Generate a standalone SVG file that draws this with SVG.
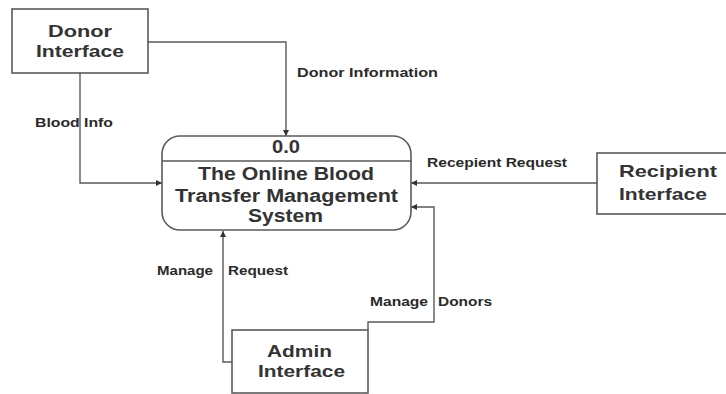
<svg xmlns="http://www.w3.org/2000/svg" width="726" height="394" viewBox="0 0 726 394">
  <style>
    .box { fill: #ffffff; stroke: #5a5a5a; stroke-width: 1.6; }
    .flow { fill: none; stroke: #5a5a5a; stroke-width: 1.4; }
    .name { font-family: "Liberation Sans", Arial, sans-serif; font-weight: bold; font-size: 17px; fill: #333333; }
    .proc { font-family: "Liberation Sans", Arial, sans-serif; font-weight: bold; font-size: 18px; fill: #333333; }
    .lbl { font-family: "Liberation Sans", Arial, sans-serif; font-weight: bold; font-size: 12px; fill: #2a2a2a; }
  </style>
  <defs>
    <marker id="arrow" viewBox="0 0 10 10" refX="10" refY="5" markerWidth="6" markerHeight="6" orient="auto" markerUnits="userSpaceOnUse">
      <path d="M0,0 L10,5 L0,10 z" fill="#333333"/>
    </marker>
  </defs>
  <rect width="726" height="394" fill="#ffffff"/>

  <!-- data flows -->
  <g id="connectors">
    <path class="flow" d="M148,42 H286 V136" marker-end="url(#arrow)"/>
    <path class="flow" d="M80,73 V183 H162" marker-end="url(#arrow)"/>
    <path class="flow" d="M597,183 H411" marker-end="url(#arrow)"/>
    <path class="flow" d="M368,330 V322 H434 V207 H411" marker-end="url(#arrow)"/>
    <path class="flow" d="M232,362 H223 V231" marker-end="url(#arrow)"/>
    <text class="lbl" x="297" y="77" textLength="141" lengthAdjust="spacingAndGlyphs">Donor Information</text>
    <text class="lbl" x="35" y="127" textLength="78" lengthAdjust="spacingAndGlyphs">Blood Info</text>
    <text class="lbl" x="427" y="167" textLength="140" lengthAdjust="spacingAndGlyphs">Recepient Request</text>
    <text class="lbl" x="157" y="275" textLength="56" lengthAdjust="spacingAndGlyphs">Manage</text>
    <text class="lbl" x="228" y="275" textLength="60" lengthAdjust="spacingAndGlyphs">Request</text>
    <text class="lbl" x="370" y="306" textLength="58" lengthAdjust="spacingAndGlyphs">Manage</text>
    <text class="lbl" x="438" y="306" textLength="54" lengthAdjust="spacingAndGlyphs">Donors</text>
  </g>

  <!-- process 0.0 -->
  <g id="process">
    <rect class="box" x="162" y="136" width="249" height="94" rx="18" ry="18"/>
    <line class="flow" x1="162" y1="161" x2="411" y2="161"/>
    <text class="proc" x="286" y="153" text-anchor="middle" textLength="28" lengthAdjust="spacingAndGlyphs">0.0</text>
    <text class="proc" x="198" y="180" textLength="176" lengthAdjust="spacingAndGlyphs">The Online Blood</text>
    <text class="proc" x="175" y="202" textLength="223" lengthAdjust="spacingAndGlyphs">Transfer Management</text>
    <text class="proc" x="248" y="222" textLength="75" lengthAdjust="spacingAndGlyphs">System</text>
  </g>

  <!-- external entities -->
  <g id="donor">
    <rect class="box" x="12" y="9" width="136" height="64"/>
    <text class="name" x="48" y="37" textLength="64" lengthAdjust="spacingAndGlyphs">Donor</text>
    <text class="name" x="36" y="57" textLength="88" lengthAdjust="spacingAndGlyphs">Interface</text>
  </g>
  <g id="recipient">
    <rect class="box" x="597" y="153" width="145" height="61"/>
    <text class="name" x="619" y="177" textLength="98" lengthAdjust="spacingAndGlyphs">Recipient</text>
    <text class="name" x="619" y="200" textLength="88" lengthAdjust="spacingAndGlyphs">Interface</text>
  </g>
  <g id="admin">
    <rect class="box" x="232" y="330" width="136" height="63"/>
    <text class="name" x="267" y="357" textLength="65" lengthAdjust="spacingAndGlyphs">Admin</text>
    <text class="name" x="258" y="377" textLength="87" lengthAdjust="spacingAndGlyphs">Interface</text>
  </g>
</svg>
